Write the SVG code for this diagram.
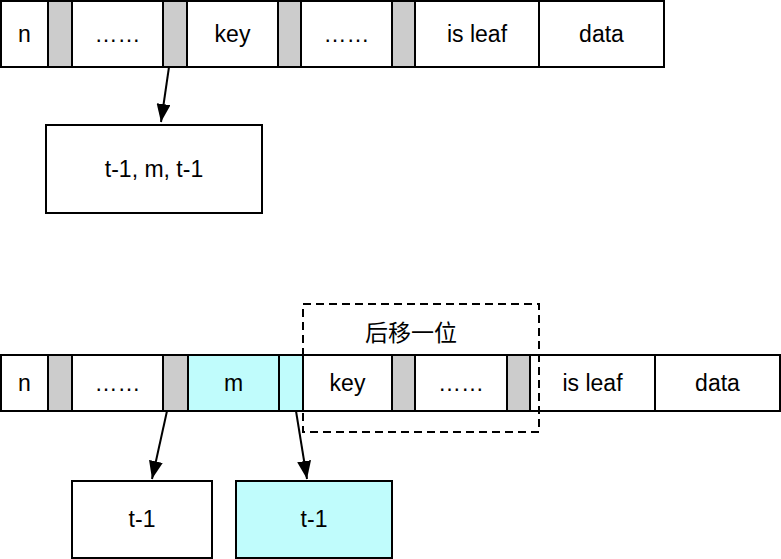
<svg xmlns="http://www.w3.org/2000/svg" width="781" height="559" viewBox="0 0 781 559">
<defs>
<style>
.c{stroke:#000;stroke-width:2;fill:#fff}
.g{stroke:#000;stroke-width:2;fill:#cccccc}
.b{stroke:#000;stroke-width:2;fill:#c0fcfc}
.t{font-family:"Liberation Sans",Arial,"Noto Sans CJK SC",sans-serif;font-size:23px;fill:#000;text-anchor:middle}
.e{stroke:#000;stroke-width:2;fill:none}
.d{stroke:#000;stroke-width:2;fill:none;stroke-dasharray:8 5}
</style>
<marker id="ah" markerUnits="userSpaceOnUse" markerWidth="18" markerHeight="14" viewBox="0 0 18 14" refX="18" refY="7" orient="auto">
<path d="M0,0 L18,7 L0,14 Z" fill="#000"/>
</marker>
</defs>
<rect width="781" height="559" fill="#fff"/>
<g id="top-row">
<rect class="c" x="1" y="1" width="47" height="66"/>
<rect class="g" x="48" y="1" width="24" height="66"/>
<rect class="c" x="72" y="1" width="91" height="66"/>
<rect class="g" x="163" y="1" width="24" height="66"/>
<rect class="c" x="187" y="1" width="91" height="66"/>
<rect class="g" x="278" y="1" width="23" height="66"/>
<rect class="c" x="301" y="1" width="91" height="66"/>
<rect class="g" x="392" y="1" width="23" height="66"/>
<rect class="c" x="415" y="1" width="124" height="66"/>
<rect class="c" x="539" y="1" width="125" height="66"/>
<text class="t" x="24.5" y="42">n</text>
<text class="t" x="117.5" y="42">……</text>
<text class="t" x="232.5" y="42">key</text>
<text class="t" x="346.5" y="42">……</text>
<text class="t" x="477" y="42">is leaf</text>
<text class="t" x="601.5" y="42">data</text>
</g>
<g id="node-top-child">
<rect class="c" x="46" y="125" width="216" height="88"/>
<text class="t" x="154" y="177">t-1, m, t-1</text>
</g>
<g id="bottom-row">
<rect class="c" x="1" y="355" width="47" height="56"/>
<rect class="g" x="48" y="355" width="24" height="56"/>
<rect class="c" x="72" y="355" width="91" height="56"/>
<rect class="g" x="163" y="355" width="25" height="56"/>
<rect class="b" x="188" y="355" width="91" height="56"/>
<rect class="b" x="279" y="355" width="24" height="56"/>
<rect class="c" x="303" y="355" width="89" height="56"/>
<rect class="g" x="392" y="355" width="23" height="56"/>
<rect class="c" x="415" y="355" width="92" height="56"/>
<rect class="g" x="507" y="355" width="23" height="56"/>
<rect class="c" x="530" y="355" width="125" height="56"/>
<rect class="c" x="655" y="355" width="125" height="56"/>
<text class="t" x="24.5" y="391">n</text>
<text class="t" x="117.5" y="391">……</text>
<text class="t" x="233.5" y="391">m</text>
<text class="t" x="347.5" y="391">key</text>
<text class="t" x="461" y="391">……</text>
<text class="t" x="592.5" y="391">is leaf</text>
<text class="t" x="717.5" y="391">data</text>
</g>
<g id="shift-group">
<rect class="d" x="303" y="304" width="236" height="128"/>
<text class="t" x="411" y="341">后移一位</text>
</g>
<g id="node-left-child">
<rect class="c" x="72" y="481" width="140" height="77"/>
<text class="t" x="142" y="527">t-1</text>
</g>
<g id="node-right-child">
<rect class="b" x="236" y="481" width="156" height="77"/>
<text class="t" x="314" y="527">t-1</text>
</g>
<g id="connectors">
<line class="e" x1="169" y1="67" x2="161" y2="122" marker-end="url(#ah)"/>
<line class="e" x1="167" y1="411" x2="152" y2="479" marker-end="url(#ah)"/>
<line class="e" x1="296" y1="411" x2="307" y2="479" marker-end="url(#ah)"/>
</g>
</svg>
